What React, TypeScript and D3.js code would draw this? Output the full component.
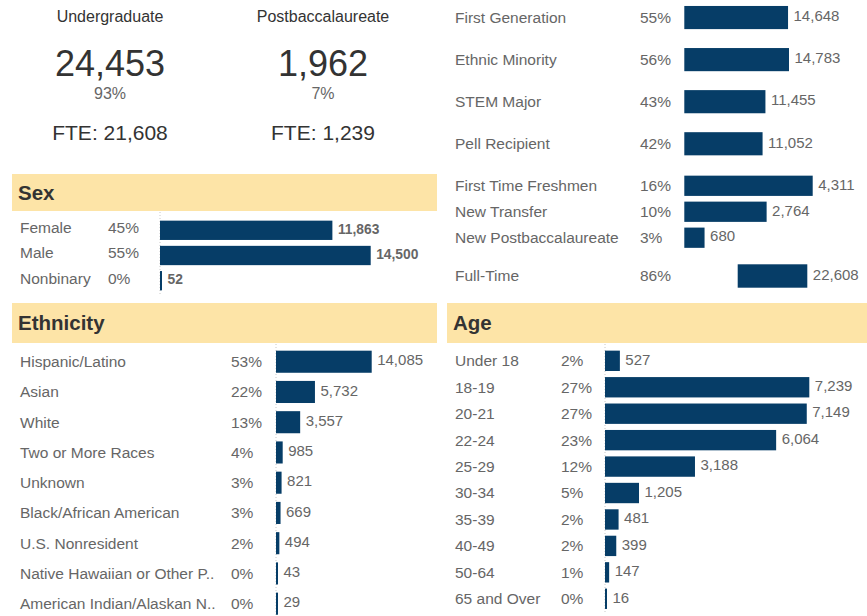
import React from "react";
import * as d3 from "d3";

const W = 867;
const H = 616;

// ---------- Data ----------
const headerGroups = ["Undergraduate", "Postbaccalaureate"];
const headerCounts = [24453, 1962];
const headerPercents = ["93%", "7%"];
const headerFTE = [21608, 1239];

const sexCats = ["Female", "Male", "Nonbinary"];
const sexValues = [11863, 14500, 52];
const sexPcts = ["45%", "55%", "0%"];

const ethCats = [
  "Hispanic/Latino",
  "Asian",
  "White",
  "Two or More Races",
  "Unknown",
  "Black/African American",
  "U.S. Nonresident",
  "Native Hawaiian or Other P..",
  "American Indian/Alaskan N..",
];
const ethValues = [14085, 5732, 3557, 985, 821, 669, 494, 43, 29];
const ethPcts = ["53%", "22%", "13%", "4%", "3%", "3%", "2%", "0%", "0%"];

const charCats = ["First Generation", "Ethnic Minority", "STEM Major", "Pell Recipient"];
const charValues = [14648, 14783, 11455, 11052];
const charPcts = ["55%", "56%", "43%", "42%"];

const newCats = ["First Time Freshmen", "New Transfer", "New Postbaccalaureate"];
const newValues = [4311, 2764, 680];
const newPcts = ["16%", "10%", "3%"];

const ftCats = ["Full-Time"];
const ftValues = [22608];
const ftPcts = ["86%"];

const ageCats = ["Under 18", "18-19", "20-21", "22-24", "25-29", "30-34", "35-39", "40-49", "50-64", "65 and Over"];
const ageValues = [527, 7239, 7149, 6064, 3188, 1205, 481, 399, 147, 16];
const agePcts = ["2%", "27%", "27%", "23%", "12%", "5%", "2%", "2%", "1%", "0%"];

// ---------- Style ----------
const FONT = "'Liberation Sans', Arial, Helvetica, sans-serif";
const BAR = "#063d67";
const BAND = "#fde4a7";
const LABEL = "#666666";
const DARK = "#333333";
const fmt = d3.format(",");

type PanelProps = {
  cats: string[];
  values: number[];
  pcts: string[];
  yRange: [number, number];
  padding: number;
  xRange: [number, number];
  xMax: number;
  labelX: number;
  pctX: number;
  boldValues?: boolean;
  valueSize?: number;
  labelShift?: number;
  axis?: [number, number] | null;
};

function BarPanel(p: PanelProps) {
  const y = d3
    .scaleBand<string>()
    .domain(p.cats)
    .range(p.yRange)
    .paddingInner(p.padding)
    .paddingOuter(p.padding / 2);
  const x = d3.scaleLinear().domain([0, p.xMax]).range(p.xRange);
  const bw = y.bandwidth();
  const shift = p.labelShift ?? 0;
  return (
    <g>
      {p.axis && (
        <line
          x1={x(0)}
          x2={x(0)}
          y1={p.axis[0]}
          y2={p.axis[1]}
          stroke="#c8c8c8"
          strokeWidth={1}
          strokeDasharray="1,2"
        />
      )}
      {p.cats.map((c, i) => {
        const yc = (y(c) as number) + bw / 2;
        const w = Math.max(2, x(p.values[i]) - x(0));
        return (
          <g key={c}>
            <text x={p.labelX} y={yc + shift} dy="0.35em" fontSize={15.5} fill={LABEL} fontFamily={FONT}>
              {c}
            </text>
            <text x={p.pctX} y={yc + shift} dy="0.35em" fontSize={15.5} fill={LABEL} fontFamily={FONT}>
              {p.pcts[i]}
            </text>
            <rect x={x(0)} y={y(c)} width={w} height={bw} fill={BAR} />
            <text
              x={x(0) + w + 5.5}
              y={yc - 1.5}
              dy="0.35em"
              fontSize={p.valueSize ?? 15}
              fontWeight={p.boldValues ? "bold" : "normal"}
              fill={LABEL}
              fontFamily={FONT}
            >
              {fmt(p.values[i])}
            </text>
          </g>
        );
      })}
    </g>
  );
}

function Band({ x, y, w, h, title }: { x: number; y: number; w: number; h: number; title: string }) {
  return (
    <g>
      <rect x={x} y={y} width={w} height={h} fill={BAND} />
      <text
        x={x + 6}
        y={y + h / 2}
        dy="0.35em"
        fontSize={20.5}
        fontWeight="bold"
        fill={DARK}
        fontFamily={FONT}
      >
        {title}
      </text>
    </g>
  );
}

export default function App() {
  const headerX = d3.scalePoint<string>().domain(headerGroups).range([110, 323]);
  return (
    <svg
      width={W}
      height={H}
      style={{ position: "absolute", left: 0, top: 0, background: "#fff" }}
      xmlns="http://www.w3.org/2000/svg"
    >
      <rect width={W} height={H} fill="#fff" />
      {/* Header numbers */}
      {headerGroups.map((g, i) => {
        const cx = headerX(g) as number;
        return (
          <g key={g} fontFamily={FONT} textAnchor="middle">
            <text x={cx} y={21.5} fontSize={16} fill={DARK}>
              {g}
            </text>
            <text x={cx} y={76} fontSize={36} fill={DARK}>
              {fmt(headerCounts[i])}
            </text>
            <text x={cx} y={99} fontSize={16} fill={LABEL}>
              {headerPercents[i]}
            </text>
            <text x={cx} y={140} fontSize={21} fill={DARK}>
              {"FTE: " + fmt(headerFTE[i])}
            </text>
          </g>
        );
      })}

      {/* Sex */}
      <Band x={12} y={174} w={425} h={37} title="Sex" />
      <BarPanel
        cats={sexCats}
        values={sexValues}
        pcts={sexPcts}
        yRange={[217.7, 293.3]}
        padding={0.234}
        xRange={[160, 370.7]}
        xMax={14500}
        labelX={20}
        pctX={108}
        boldValues
        valueSize={13.8}
        labelShift={-2.5}
        axis={[212, 294]}
      />

      {/* Ethnicity */}
      <Band x={12} y={303} w={425} h={40} title="Ethnicity" />
      <BarPanel
        cats={ethCats}
        values={ethValues}
        pcts={ethPcts}
        yRange={[346.6, 618.8]}
        padding={0.27}
        xRange={[276, 371.7]}
        xMax={14085}
        labelX={20}
        pctX={231}
        axis={[344, 616]}
      />

      {/* Student characteristics */}
      <BarPanel
        cats={charCats}
        values={charValues}
        pcts={charPcts}
        yRange={[-3.5, 164.8]}
        padding={0.45}
        xRange={[684.3, 789]}
        xMax={14783}
        labelX={455}
        pctX={640}
        axis={null}
      />
      <BarPanel
        cats={newCats}
        values={newValues}
        pcts={newPcts}
        yRange={[172.8, 250.7]}
        padding={0.22}
        xRange={[684.3, 812.7]}
        xMax={4311}
        labelX={455}
        pctX={640}
        axis={null}
      />
      <BarPanel
        cats={ftCats}
        values={ftValues}
        pcts={ftPcts}
        yRange={[264.3, 287.7]}
        padding={0}
        xRange={[737.7, 807.3]}
        xMax={22608}
        labelX={455}
        pctX={640}
        axis={null}
      />

      {/* Age */}
      <Band x={447} y={303} w={420} h={40} title="Age" />
      <BarPanel
        cats={ageCats}
        values={ageValues}
        pcts={agePcts}
        yRange={[347.6, 612]}
        padding={0.23}
        xRange={[605, 809.3]}
        xMax={7239}
        labelX={455}
        pctX={561}
        axis={[344, 612]}
      />
    </svg>
  );
}
